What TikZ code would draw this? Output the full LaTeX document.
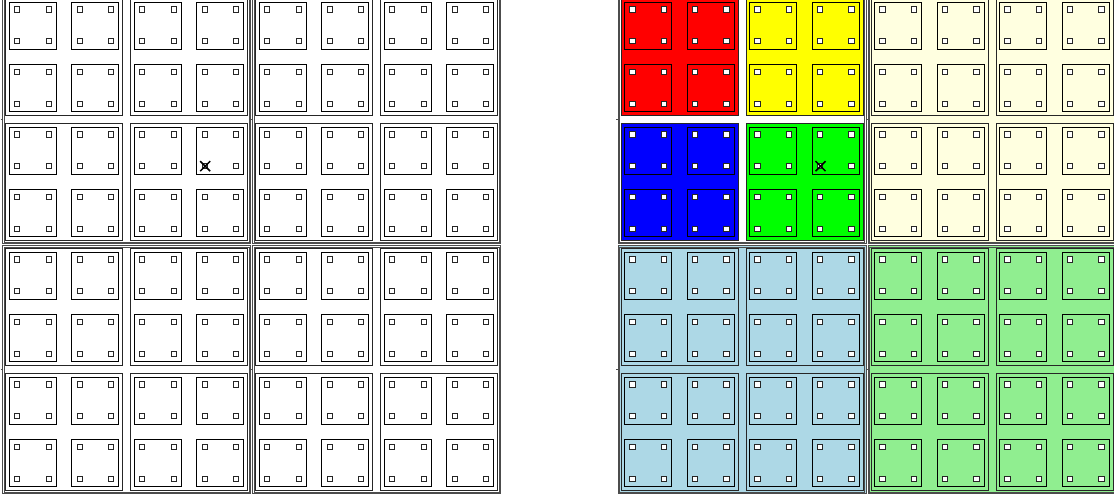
\documentclass[tikz,border=0pt]{standalone}
\definecolor{qyellow}{HTML}{FFFFE0}
\definecolor{qblue}{HTML}{ADD8E6}
\definecolor{qgreen}{HTML}{90EE90}
\definecolor{bred}{HTML}{FF0000}
\definecolor{byellow}{HTML}{FFFF00}
\definecolor{bblue}{HTML}{0000FF}
\definecolor{bgreen}{HTML}{00FF00}
\tikzset{
  quadline/.style={draw=black!70, line width=0.6pt},
  blockbox/.style={draw=black!85, line width=0.9pt},
  cellbox/.style={draw=black, line width=0.9pt},
  tinybox/.style={draw=black!85, line width=1pt, fill=white},
  xmark/.style={draw=black, line width=1.5pt},
}
\newcommand\myblock[3]{%
  \draw[blockbox, fill=#3] (#1+4,#2+4) rectangle (#1+121,#2+121);
  \foreach \i in {0,62.5} {\foreach \j in {0,62.5} {
    \draw[cellbox, fill=#3] (#1+\i+7.75,#2+\j+7.75) rectangle +(47,47);
    \foreach \u in {15.5,47} {\foreach \v in {15,46.8} {
      \draw[tinybox] (#1+\i+\u-2.6,#2+\j+\v-2.6) rectangle +(5.2,5.2);
    }}
  }}
}
\newcommand\myquad[7]{%
  \fill[#3] (#1+1,#2+1) rectangle (#1+249,#2+249);
  \draw[quadline] (#1+1,#2+1) rectangle (#1+249,#2+249);
  \draw[quadline] (#1+2.6,#2+2.6) rectangle (#1+247.4,#2+247.4);
  \myblock{#1}{#2}{#4}
  \myblock{#1+125}{#2}{#5}
  \myblock{#1}{#2+125}{#6}
  \myblock{#1+125}{#2+125}{#7}
  \draw[quadline] (#1-1,#2+125) -- (#1+1.5,#2+125);
}
\begin{document}
\begin{tikzpicture}[x=1pt,y=-1pt]
\useasboundingbox (0,0) rectangle (1114,494);
\clip (0,0) rectangle (1114,494);
\fill[white] (0,0) rectangle (1114,494);
% left grid
\myquad{1.6}{-5.5}{white}{white}{white}{white}{white}
\myquad{251.6}{-5.5}{white}{white}{white}{white}{white}
\myquad{1.6}{244.5}{white}{white}{white}{white}{white}
\myquad{251.6}{244.5}{white}{white}{white}{white}{white}
% right grid
\myquad{617}{-5.5}{white}{bred}{byellow}{bblue}{bgreen}
\myquad{867}{-5.5}{qyellow}{qyellow}{qyellow}{qyellow}{qyellow}
\myquad{617}{244.5}{qblue}{qblue}{qblue}{qblue}{qblue}
\myquad{867}{244.5}{qgreen}{qgreen}{qgreen}{qgreen}{qgreen}
% marks
\coordinate (xl) at (205.2,166.2);
\coordinate (xr) at (820.5,166.2);
\foreach \c in {xl,xr} {
  \draw[xmark] (\c) +(-5,-5) -- +(5,5);
  \draw[xmark] (\c) +(-5,5) -- +(5,-5);
}
\end{tikzpicture}
\end{document}
